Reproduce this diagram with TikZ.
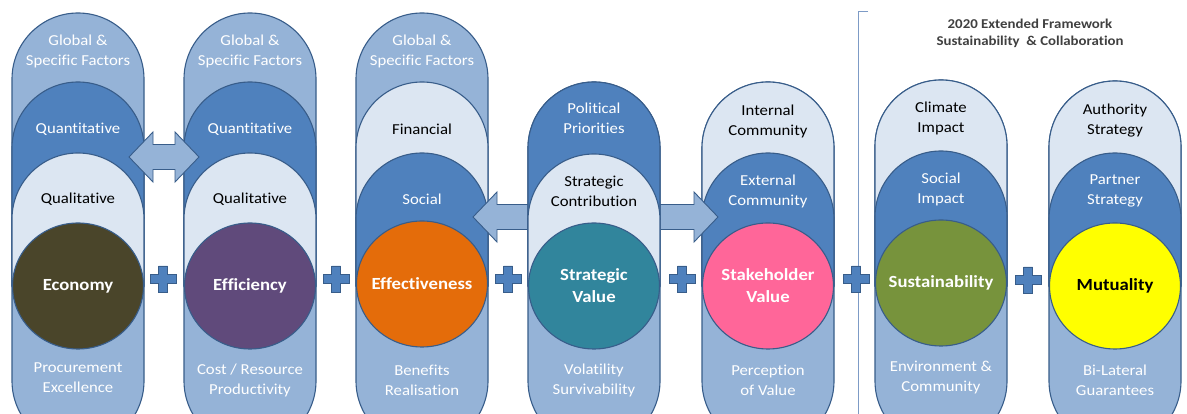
\documentclass[tikz,border=0pt]{standalone}
\usepackage{fontspec}
\setmainfont{Carlito}[FakeStretch=1.1,Ligatures={NoCommon,NoContextual}]
\usetikzlibrary{shapes.geometric}
\newcommand{\nk}{\kern0pt }
\definecolor{medblue}{HTML}{95B3D7}
\definecolor{darkblue}{HTML}{4F81BD}
\definecolor{lightblue}{HTML}{DCE6F2}
\definecolor{lineblue}{HTML}{385D8A}
\definecolor{sepline}{HTML}{7D9BC6}
\definecolor{headgray}{HTML}{404040}
\definecolor{cEconomy}{HTML}{4A452A}
\definecolor{cEfficiency}{HTML}{604A7B}
\definecolor{cEffect}{HTML}{E46C0A}
\definecolor{cStrategic}{HTML}{31859C}
\definecolor{cStake}{HTML}{FF6699}
\definecolor{cSustain}{HTML}{77933C}
\definecolor{cMutual}{HTML}{FFFF00}
\tikzset{
  outline/.style={draw=lineblue, line width=1.1pt},
  circ/.style={ellipse, outline, minimum width=131pt, minimum height=126pt, inner sep=0pt},
  ctxt/.style={font=\bfseries\fontsize{17}{22}\selectfont, text=white, align=center, inner sep=0pt},
  wtxt/.style={text=white, font=\fontsize{15.2}{20}\selectfont, align=center, inner sep=0pt},
  btxt/.style={wtxt, text=black},
  plussign/.style={fill=darkblue, draw=lineblue, line width=0.9pt},
  blockarrow/.style={fill=medblue, draw=lineblue, line width=0.9pt},
  headtxt/.style={text=headgray, font=\bfseries\fontsize{13.5}{18}\selectfont, inner sep=0pt},
}
% outer capsule: cx, top (image y), fill
\newcommand{\outercap}[3]{%
  \path[outline, fill=#3] (#1-66,348-#2) arc[start angle=180,end angle=0,radius=66]
    -- (#1+66,33) arc[start angle=0,end angle=-180,radius=66] -- cycle;}
% inner layer: cx, top (image y), fill ; sides end at circle centre
\newcommand{\innercap}[3]{%
  \path[outline, fill=#3] (#1-66,348-#2) arc[start angle=180,end angle=0,radius=66]
    -- (#1+66,128) -- (#1-66,128) -- cycle;}
% plus sign: cx, cy (image y)
\newcommand{\plusat}[2]{%
  \path[plussign] (#1-4.5,414-#2+13) -- (#1+4.5,414-#2+13) -- (#1+4.5,414-#2+4.5)
    -- (#1+13,414-#2+4.5) -- (#1+13,414-#2-4.5) -- (#1+4.5,414-#2-4.5)
    -- (#1+4.5,414-#2-13) -- (#1-4.5,414-#2-13) -- (#1-4.5,414-#2-4.5)
    -- (#1-13,414-#2-4.5) -- (#1-13,414-#2+4.5) -- (#1-4.5,414-#2+4.5) -- cycle;}
% double block arrow: left tip x, right tip x, cy (image y)
\newcommand{\dblarrow}[3]{%
  \path[blockarrow] (#1,414-#3) -- (#1+24,414-#3+25) -- (#1+24,414-#3+12.5)
    -- (#2-24,414-#3+12.5) -- (#2-24,414-#3+25) -- (#2,414-#3)
    -- (#2-24,414-#3-25) -- (#2-24,414-#3-12.5) -- (#1+24,414-#3-12.5)
    -- (#1+24,414-#3-25) -- cycle;}
\begin{document}
\begin{tikzpicture}[x=1pt,y=1pt]
\useasboundingbox (0,0) rectangle (1187,414);
\clip (0,0) rectangle (1187,414);
\fill[white] (0,0) rectangle (1187,414);

% separator
\draw[sepline, line width=0.9pt] (868,403) -- (858,403) -- (858,0);

% column 1
\outercap{78}{13}{medblue}
\innercap{78}{82}{darkblue}
\innercap{78}{153}{lightblue}
\node[circ, fill=cEconomy] (economy) at (78,414-286) {};
\node[ctxt] (economyt) at (economy) {Economy};
\node[wtxt] (c1a) at (78,414-51) {Global \&\\Speci\nk fic Factors};
\node[wtxt] (c1b) at (78,414-129) {Quant\nk itat\nk ive};
\node[btxt] (c1c) at (78,414-199) {Qualitat\nk ive};
\node[wtxt] (c1d) at (78,414-378) {Procurement\\Excellence};

% column 2
\outercap{250}{13}{medblue}
\innercap{250}{82}{darkblue}
\innercap{250}{153}{lightblue}
\node[circ, fill=cEfficiency] (efficiency) at (250,414-286) {};
\node[ctxt] (efficiencyt) at (efficiency) {Ef\nk f\nk iciency};
\node[wtxt] (c2a) at (250,414-51) {Global \&\\Speci\nk fic Factors};
\node[wtxt] (c2b) at (250,414-129) {Quant\nk itat\nk ive};
\node[btxt] (c2c) at (250,414-199) {Qualitat\nk ive};
\node[wtxt] (c2d) at (250,414-380) {Cost / Resource\\Product\nk ivity};

\dblarrow{129}{199}{157}

% column 3
\outercap{422}{13}{medblue}
\innercap{422}{82}{lightblue}
\innercap{422}{153}{darkblue}
\node[circ, fill=cEffect] (effect) at (422,414-284) {};
\node[ctxt] (effectt) at (effect) {Ef\nk fect\nk iveness};
\node[wtxt] (c3a) at (422,414-51) {Global \&\\Speci\nk fic Factors};
\node[btxt] (c3b) at (422,414-129) {Financial};
\node[wtxt] (c3c) at (422,414-199) {Social};
\node[wtxt] (c3d) at (422,414-380) {Benef\nk its\\Realisat\nk ion};

% column 5
\outercap{768}{82}{medblue}
\innercap{768}{82}{lightblue}
\innercap{768}{153}{darkblue}
\node[circ, fill=cStake] (stake) at (768,414-286) {};
\node[ctxt] (staket) at (stake) {Stakeholder\\Value};
\node[btxt] (c5a) at (768,414-121) {Internal\\Community};
\node[wtxt] (c5b) at (768,414-191) {External\\Community};
\node[wtxt] (c5d) at (768,414-380) {Percept\nk ion\\of Value};

\dblarrow{473}{718}{217}

% column 4
\outercap{594}{82}{medblue}
\innercap{594}{82}{darkblue}
\innercap{594}{154}{lightblue}
\node[circ, fill=cStrategic] (strategic) at (594,414-286) {};
\node[ctxt] (strategict) at (strategic) {Strategic\\Value};
\node[wtxt] (c4a) at (594,414-118) {Polit\nk ical\\Priorit\nk ies};
\node[btxt] (c4b) at (594,414-191) {Strategic\\Contribut\nk ion};
\node[wtxt] (c4d) at (594,414-380) {Volat\nk ility\\Survivability};

% column 6
\outercap{941}{80}{medblue}
\innercap{941}{80}{lightblue}
\innercap{941}{151}{darkblue}
\node[circ, fill=cSustain] (sustain) at (941,414-283) {};
\node[ctxt] (sustaint) at (sustain) {Sustainability};
\node[btxt] (c6a) at (941,414-118) {Climate\\Impact};
\node[wtxt] (c6b) at (941,414-189) {Social\\Impact};
\node[wtxt] (c6d) at (941,414-378) {Environment \&\\Community};

% column 7
\outercap{1115}{81}{medblue}
\innercap{1115}{81}{lightblue}
\innercap{1115}{153}{darkblue}
\node[circ, fill=cMutual] (mutual) at (1115,414-286) {};
\node[ctxt, text=black] (mutualt) at (mutual) {Mutuality};
\node[btxt] (c7a) at (1115,414-121) {Authority\\Strategy};
\node[wtxt] (c7b) at (1115,414-191) {Partner\\Strategy};
\node[wtxt] (c7d) at (1115,414-380) {Bi-Lateral\\Guarantees};

% plus signs
\plusat{163}{279}
\plusat{336}{279}
\plusat{508}{279}
\plusat{682}{279}
\plusat{856}{279}
\plusat{1028}{280}

% header
\node[headtxt] (head1) at (1030,414-24) {2020 Extended Framework};
\node[headtxt] (head2) at (1030,414-42) {Sustainability \ \& Collaboration};
\end{tikzpicture}
\end{document}
